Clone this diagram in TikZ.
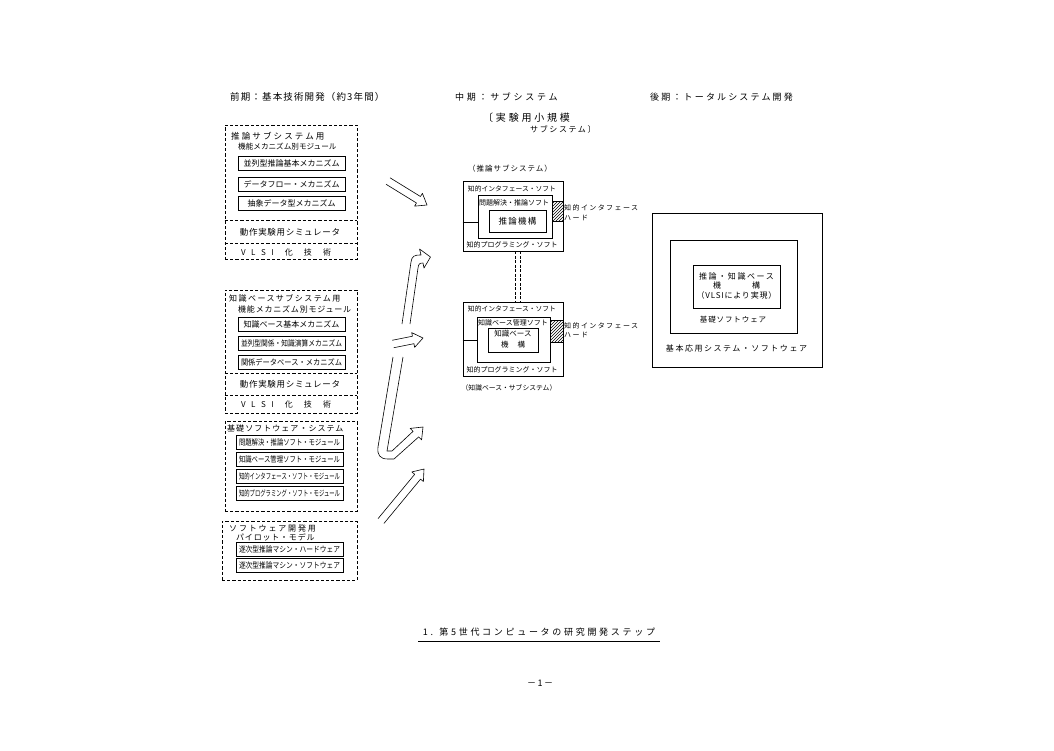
\documentclass[tikz,border=0pt]{standalone}
\usepackage{fontspec}
\usepackage{graphicx}
\setmainfont{Noto Sans CJK JP}
\usetikzlibrary{patterns}
\newcommand\jfs[1]{\fontsize{#1}{#1}\selectfont}
\newcommand\jls[1]{\addfontfeatures{LetterSpace=#1}}
\newcommand\jfit[2]{\sbox0{#2}\ifdim\wd0>#1\resizebox{#1}{\height}{#2}\else\usebox0\fi}
\newcommand\blockarr[4]{%
  \pgfmathsetmacro\bdx{#3-#1}\pgfmathsetmacro\bdy{#4-#2}%
  \pgfmathsetmacro\bang{atan2(-\bdy,\bdx)}\pgfmathsetmacro\blen{veclen(\bdx,\bdy)}%
  \begin{scope}[shift={(#1,#2)},rotate=\bang]
    \draw[barr] (0,3.8) -- (\blen-10,3.8) -- (\blen-10,7.5) -- (\blen,0) -- (\blen-10,-7.5) -- (\blen-10,-3.8) -- (0,-3.8);
  \end{scope}}
\begin{document}
\begin{tikzpicture}[x=1pt,y=-1pt,
  frame/.style={draw, dash pattern=on 3.2pt off 2pt, line width=0.6pt, inner sep=0pt},
  dline/.style={dash pattern=on 3.2pt off 2pt, line width=0.6pt},
  ibox/.style={draw, line width=0.8pt, inner sep=0pt, minimum width=107pt, minimum height=14pt, font=\jfs{8}},
  sbox/.style={draw, line width=0.6pt, inner sep=0pt},
  lbl/.style={inner sep=0pt},
  barr/.style={line width=0.6pt, line join=round}]
\useasboundingbox (0,0) rectangle (1054,750);
\fill[white] (0,0) rectangle (1054,750);

% ---------- headers ----------
\node[lbl, anchor=west, font=\jfs{9.5}\jls{12}] (h1) at (230,97) {前期：基本技術開発（約3年間）};
\node[lbl, anchor=west, font=\jfs{9}\jls{30}] (h2) at (455,97) {中期：サブシステム};
\node[lbl, anchor=west, font=\jfs{9}\jls{24}] (h3) at (650,97) {後期：トータルシステム開発};
\node[lbl, anchor=west, font=\jfs{10}\jls{28}] (h4) at (483,118) {〔実験用小規模};
\node[lbl, anchor=west, font=\jfs{8}\jls{20}] (h5) at (530,129) {サブシステム〕};

% ---------- left column, group 1 ----------
\node[frame, minimum width=132pt, minimum height=134pt] (g1) at (291,192) {};
\node[lbl, anchor=west, font=\jfs{8.5}\jls{25}] (g1t1) at (231,136) {推論サブシステム用};
\node[lbl, anchor=west, font=\jfs{7.6}] (g1t2) at (238,146.5) {機能メカニズム別モジュール};
\node[ibox] (g1a) at (291.5,163.5) {\jfit{101pt}{並列型推論基本メカニズム}};
\node[ibox] (g1b) at (291.5,184) {\jfit{101pt}{データフロー・メカニズム}};
\node[ibox] (g1c) at (291.5,203.5) {\jfit{101pt}{抽象データ型メカニズム}};
\draw[dline] (g1.west |- 0,220) -- (g1.east |- 0,220);
\node[lbl, font=\jfs{8.5}\jls{8}] (g1s) at (290,232) {動作実験用シミュレータ};
\draw[dline] (g1.west |- 0,243) -- (g1.east |- 0,243);
\node[lbl, font=\jfs{8}] (g1v) at (286,252) {\makebox[90pt]{V\hfill L\hfill S\hfill I\hfill\hfill 化\hfill\hfill 技\hfill\hfill 術}};

% ---------- group 2 ----------
\node[frame, minimum width=132pt, minimum height=123pt] (g2) at (291,351.5) {};
\node[lbl, anchor=west, font=\jfs{8}\jls{18}] (g2t1) at (229,298) {知識ベースサブシステム用};
\node[lbl, anchor=west, font=\jfs{8}\jls{10}] (g2t2) at (238,309) {機能メカニズム別モジュール};
\node[ibox] (g2a) at (291.5,324) {\jfit{101pt}{知識ベース基本メカニズム}};
\node[ibox] (g2b) at (291.5,343.5) {\jfit{101pt}{並列型関係・知識演算メカニズム}};
\node[ibox] (g2c) at (291.5,362) {\jfit{101pt}{関係データベース・メカニズム}};
\draw[dline] (g2.west |- 0,373) -- (g2.east |- 0,373);
\node[lbl, font=\jfs{8.5}\jls{8}] (g2s) at (290,384) {動作実験用シミュレータ};
\draw[dline] (g2.west |- 0,395) -- (g2.east |- 0,395);
\node[lbl, font=\jfs{8}] (g2v) at (286,404.5) {\makebox[90pt]{V\hfill L\hfill S\hfill I\hfill\hfill 化\hfill\hfill 技\hfill\hfill 術}};

% ---------- group 3 ----------
\node[frame, minimum width=132pt, minimum height=90pt] (g3) at (291,466) {};
\node[lbl, anchor=west, font=\jfs{8}\jls{13}] (g3t) at (227,428.5) {基礎ソフトウェア・システム};
\node[ibox] (g3a) at (289.5,442) {\jfit{101pt}{問題解決・推論ソフト・モジュール}};
\node[ibox] (g3b) at (289.5,459.5) {\jfit{101pt}{知識ベース管理ソフト・モジュール}};
\node[ibox] (g3c) at (289.5,476.5) {\jfit{101pt}{知的インタフェース・ソフト・モジュール}};
\node[ibox] (g3d) at (289.5,493.5) {\jfit{101pt}{知的プログラミング・ソフト・モジュール}};

% ---------- group 4 ----------
\node[frame, minimum width=135pt, minimum height=59pt] (g4) at (289.5,550.5) {};
\node[lbl, anchor=west, font=\jfs{8}\jls{23}] (g4t1) at (229,528) {ソフトウェア開発用};
\node[lbl, anchor=west, font=\jfs{8}\jls{10}] (g4t2) at (236,537.5) {パイロット・モデル};
\node[ibox] (g4a) at (289.5,549) {\jfit{101pt}{逐次型推論マシン・ハードウェア}};
\node[ibox] (g4b) at (289.5,565.5) {\jfit{101pt}{逐次型推論マシン・ソフトウェア}};

% ---------- block arrows ----------
\blockarr{388}{181}{427}{205}
\blockarr{393}{344}{423}{338}
\blockarr{381}{521}{424}{469}
\draw[barr] (402,324) -- (411,262) .. controls (412,256) and (414,255) .. (421,255) -- (419.5,249) -- (430.5,257) -- (424,268) -- (423,263) .. controls (419.5,263) and (418.5,264) .. (418,268) -- (410,324);
\draw[barr] (393,357) -- (378,447) .. controls (377,455) and (380,459) .. (388,459) -- (394,459) -- (418.7,436.9) -- (421.6,439.8) -- (423,427) -- (410.2,428.4) -- (413.1,431.3) -- (392,451) -- (387,451) -- (403,357);

% ---------- middle: inference subsystem ----------
\node[lbl, anchor=west, font=\jfs{7.5}\jls{13}] (m1cap) at (468,168.5) {（推論サブシステム）};
\node[sbox, minimum width=100pt, minimum height=70pt] (m1) at (513,216) {};
\node[lbl, font=\jfs{6.8}] (m1t) at (512,189) {\jfit{90pt}{知的インタフェース・ソフト}};
\node[sbox, minimum width=74pt, minimum height=43pt] (m1m) at (515,216.5) {};
\node[lbl, font=\jfs{7}] (m1mt) at (514,203) {\jfit{70pt}{問題解決・推論ソフト}};
\node[sbox, minimum width=57pt, minimum height=22pt, font=\jfs{8.5}\jls{15}] (m1i) at (517.5,221) {推論機構};
\fill[pattern=north east lines] (m1m.east |- 0,201) rectangle (m1.east |- 0,221);
\draw[line width=0.5pt] (m1m.east |- 0,201) rectangle (m1.east |- 0,221);
\draw[line width=0.6pt] (m1.west |- 0,222) -- (m1m.west |- 0,222);
\node[lbl, font=\jfs{7}] (m1b) at (512,244.5) {\jfit{92pt}{知的プログラミング・ソフト}};
\node[lbl, anchor=west, font=\jfs{7}\jls{20}] (m1h1) at (564,208) {知的インタフェース};
\node[lbl, anchor=west, font=\jfs{7}\jls{20}] (m1h2) at (564,217.5) {ハード};

% ---------- middle: knowledge base subsystem ----------
\node[sbox, minimum width=100pt, minimum height=74pt] (m2) at (513,339) {};
\node[lbl, font=\jfs{6.8}] (m2t) at (512,309) {\jfit{90pt}{知的インタフェース・ソフト}};
\node[sbox, minimum width=73pt, minimum height=45pt] (m2m) at (513.5,339.5) {};
\node[lbl, font=\jfs{7}] (m2mt) at (513,323) {\jfit{70pt}{知識ベース管理ソフト}};
\node[sbox, minimum width=50pt, minimum height=24pt] (m2i) at (513,340) {};
\node[lbl, font=\jfs{7.5}] (m2i1) at (513,334) {知識ベース};
\node[lbl, font=\jfs{7.5}] (m2i2) at (513,345) {\makebox[24pt]{機\hfill 構}};
\fill[pattern=north east lines] (m2m.east |- 0,320) rectangle (m2.east |- 0,342);
\draw[line width=0.5pt] (m2m.east |- 0,320) rectangle (m2.east |- 0,342);
\draw[line width=0.6pt] (m2.west |- 0,340) -- (m2m.west |- 0,340);
\node[lbl, font=\jfs{7}] (m2b) at (512,369.5) {\jfit{92pt}{知的プログラミング・ソフト}};
\node[lbl, anchor=west, font=\jfs{7}\jls{20}] (m2h1) at (564,326) {知的インタフェース};
\node[lbl, anchor=west, font=\jfs{7}\jls{20}] (m2h2) at (564,335) {ハード};
\node[lbl, font=\jfs{6.8}] (m2cap) at (509,388) {（知識ベース・サブシステム）};

% link between the two subsystems
\draw[dash pattern=on 3pt off 1.5pt, line width=0.6pt] ([xshift=2.5pt]m1.south) -- ([xshift=2.5pt]m2.north);
\draw[dash pattern=on 3pt off 1.5pt, line width=0.6pt] ([xshift=7pt]m1.south) -- ([xshift=7pt]m2.north);

% ---------- right: total system ----------
\node[sbox, minimum width=170pt, minimum height=154pt] (r1) at (737,290) {};
\node[sbox, minimum width=127pt, minimum height=93pt] (r2) at (733.5,286.5) {};
\node[sbox, minimum width=87pt, minimum height=43pt] (r3) at (736.5,286.5) {};
\node[lbl, font=\jfs{8}\jls{20}] (r3a) at (736.5,276) {推論・知識ベース};
\node[lbl, font=\jfs{8}] (r3b) at (736.5,285.5) {\makebox[47pt]{機\hfill 構}};
\node[lbl, font=\jfs{8}\jls{10}] (r3c) at (736.5,295) {（VLSIにより実現）};
\node[lbl, font=\jfs{7.5}\jls{12}] (r2t) at (733,320) {基礎ソフトウェア};
\node[lbl, font=\jfs{8}\jls{19}] (r1t) at (736.5,348.5) {基本応用システム・ソフトウェア};

% ---------- caption ----------
\node[lbl, font=\jfs{9}\jls{30}] (cap) at (539,632) {1. 第5世代コンピュータの研究開発ステップ};
\draw[line width=1pt] (418,641) -- (660,641);
\node[lbl, font=\jfs{9}] (pg) at (540,683) {\makebox[26pt]{－\hfill 1\hfill －}};
\end{tikzpicture}
\end{document}
